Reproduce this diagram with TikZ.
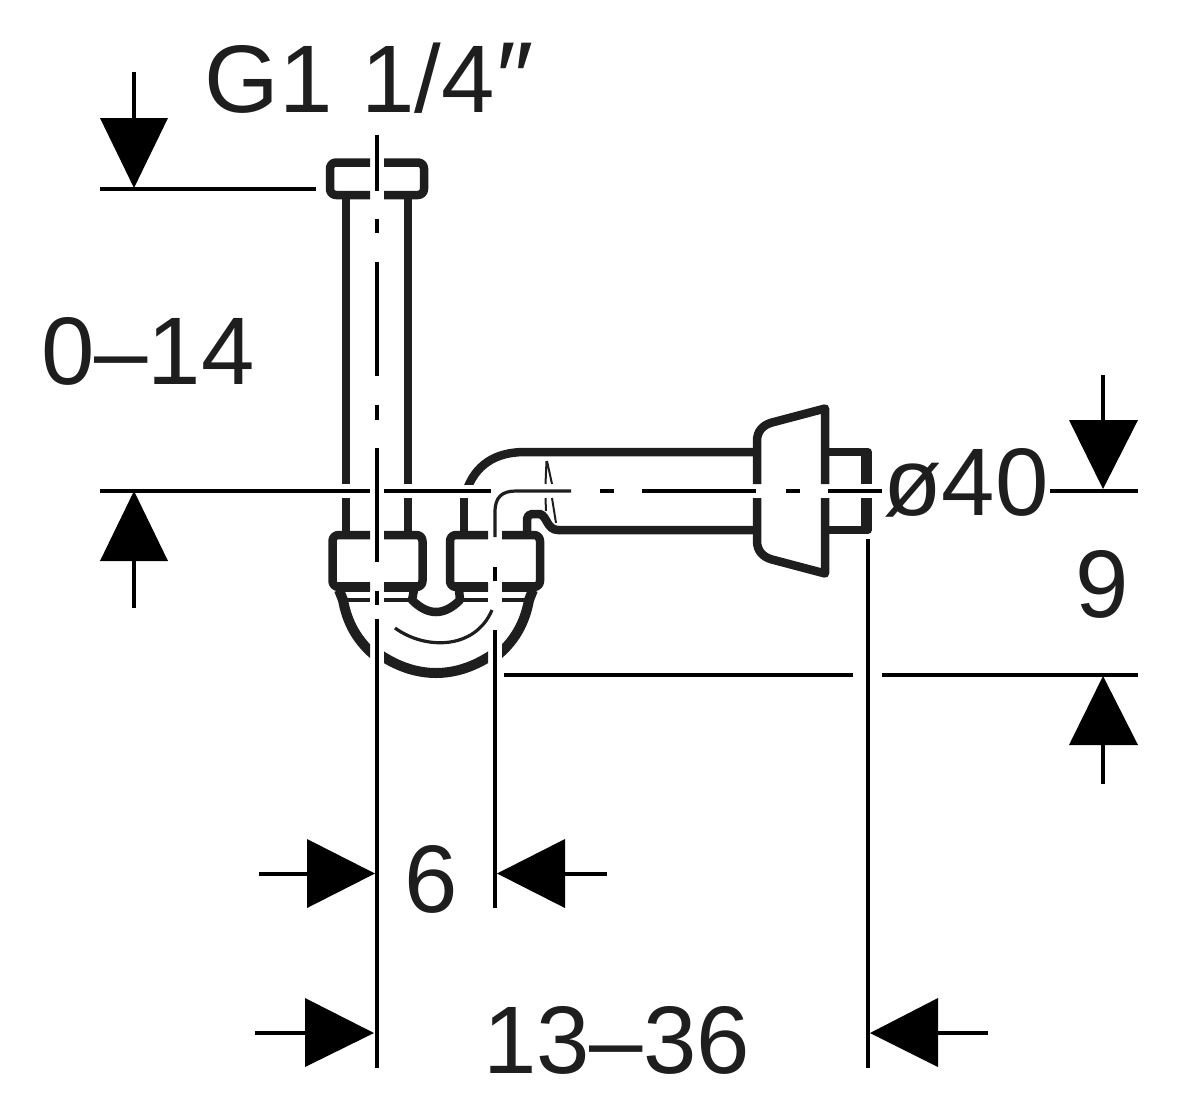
\documentclass[tikz,border=0pt]{standalone}
\usepackage{fontspec}
\usepackage{graphicx}
\setmainfont{Liberation Sans}
\definecolor{ink}{HTML}{1E1E1E}
\tikzset{
  thick line/.style={draw=ink,line width=8.5pt,line join=round},
  heavy line/.style={draw=ink,line width=10pt,line join=round},
  dim line/.style={draw=black,line width=4pt},
  thin line/.style={draw=ink,line width=3.2pt},
  tip/.style={fill=black,draw=none},
  label text/.style={text=ink,anchor=base west,inner sep=0pt,outer sep=0pt,font=\fontsize{96}{96}\selectfont},
}
\begin{document}
\begin{tikzpicture}[x=1pt,y=-1pt]
\useasboundingbox (0,0) rectangle (1183,1117);
% top nut
\draw[thick line,rounded corners=6pt] (370,162.5) -- (330,162.5) -- (330,195) -- (370,195);
\draw[thick line,rounded corners=6pt] (384,162.5) -- (424,162.5) -- (424,195) -- (384,195);
% riser
\draw[thick line] (346,195) -- (346,484) (346,498) -- (346,535);
\draw[thick line] (408,195) -- (408,484) (408,498) -- (408,535);
% lower left nut
\draw[thick line,rounded corners=6pt] (370,535) -- (332.5,535) -- (332.5,587) -- (370,587);
\draw[thick line,rounded corners=6pt] (384,535) -- (422.5,535) -- (422.5,587) -- (384,587);
\draw[draw=ink,line width=10pt] (337,587) -- (370,587) (384,587) -- (418,587);
% lower right nut
\draw[thick line,rounded corners=6pt] (488,535) -- (450,535) -- (450,587) -- (488,587);
\draw[thick line,rounded corners=6pt] (502,535) -- (540,535) -- (540,587) -- (502,587);
\draw[draw=ink,line width=10pt] (455,587) -- (488,587) (502,587) -- (535,587);
% thin lines under nuts
\draw[thin line] (346,600) -- (370,600) (384,600) -- (410,600) (463,600) -- (488,600) (502,600) -- (525,600);
% ferrules and bowl
\begin{scope}
\clip (320,585) rectangle (370,690);
\draw[heavy line] (339,590) -- (343,600) .. controls (347,622) and (357,642) .. (378,658);
\end{scope}
\begin{scope}
\clip (502,585) rectangle (550,690);
\draw[heavy line] (533,590) -- (529,600) .. controls (525,622) and (515,642) .. (494,658);
\end{scope}
\begin{scope}
\clip (384,640) rectangle (488,690);
\draw[heavy line] (376,652) .. controls (415,680) and (457,680) .. (496,652);
\end{scope}
% inner U
\draw[draw=ink,line width=8.5pt,line join=round] (414,590) -- (412,600) .. controls (428,616) and (444,616) .. (460,600) -- (459,590);
% thin inner arc
\draw[thin line] (395,628) .. controls (425,650) and (475,650) .. (492,610);
% elbow outer
\draw[thick line] (464,535) -- (464,498);
\begin{scope}
\clip (455,440) rectangle (770,484);
\draw[thick line] (466,492) .. controls (475,465) and (495,452) .. (525,452) -- (757,452);
\end{scope}
% elbow inner
\draw[thin line] (495,537) -- (495,512) .. controls (495,497) and (502,491) .. (516,491) -- (571,491);
% lower tube
\draw[thick line,rounded corners=5pt] (527,535) -- (527,514) -- (542,514);
\draw[thick line] (540,514) .. controls (547,516) and (547,530) .. (558,530) -- (757,530);
% thin wedge
\draw[draw=ink,line width=2pt] (546.5,461) -- (545.5,484) (547,461) -- (552,484) (545.5,498) -- (546,511) (552,498) -- (556,523);
% flange
\draw[thick line,line join=round] (757,484) -- (757,441) .. controls (757,431) and (763,425) .. (772,422.5) -- (825,408.5) -- (825,484);
\draw[thick line,line join=round] (757,498) -- (757,541) .. controls (757,551) and (763,557) .. (772,559.5) -- (825,573.5) -- (825,498);
% pipe stub
\draw[thick line,line width=7.5pt] (825,452) -- (868,452) -- (868,484);
\draw[thick line,line width=7.5pt] (868,498) -- (868,530) -- (825,530);
\draw[draw=ink,line width=2.8pt] (862.1,452) -- (862.1,484) (862.1,498) -- (862.1,530);
% centrelines
\draw[dim line] (377,135) -- (377,191) (377,219) -- (377,233) (377,262) -- (377,376) (377,405) -- (377,420) (377,448) -- (377,562) (377,591) -- (377,605);
\draw[dim line] (600,491) -- (614,491) (642,491) -- (756,491) (786,491) -- (800,491) (828,491) -- (882,491);
\draw[dim line] (495,567) -- (495,581);
% dimension lines
\draw[dim line] (100,188.7) -- (316,188.7);
\draw[dim line] (100,491) -- (370,491) (384,491) -- (491,491);
\draw[dim line] (1050,491) -- (1138,491);
\draw[dim line] (504,674.5) -- (853,674.5) (882,674.5) -- (1138,674.5);
\draw[dim line] (377,619) -- (377,1068);
\draw[dim line] (495,630) -- (495,908);
\draw[dim line] (867.5,539) -- (867.5,1068);
% stems
\draw[dim line] (134,72) -- (134,120) (134,560) -- (134,608);
\draw[dim line] (1103,375) -- (1103,421) (1103,744) -- (1103,784);
\draw[dim line] (259,873.5) -- (308,873.5) (564,873.5) -- (607,873.5);
\draw[dim line] (255,1033) -- (306,1033) (937,1033) -- (988,1033);
% arrowheads
\fill[tip] (100,118) -- (168,118) -- (134,188) -- cycle;
\fill[tip] (134,491) -- (168,561) -- (100,561) -- cycle;
\fill[tip] (1069,420) -- (1138,420) -- (1103,489) -- cycle;
\fill[tip] (1103,676) -- (1138,745) -- (1069,745) -- cycle;
\fill[tip] (375,873.5) -- (307,908) -- (307,839) -- cycle;
\fill[tip] (497,873.5) -- (565,839) -- (565,908) -- cycle;
\fill[tip] (374,1033) -- (305,1067) -- (305,998) -- cycle;
\fill[tip] (870,1033) -- (938,998) -- (938,1067) -- cycle;
% labels
\node[label text] (g) at (204.5,112) {G1\hspace{2pt} 1/4\hspace{2pt}\scalebox{1.1}[1.05]{″}};
\node[label text] (range) at (41,384) {0–14};
\node[label text] (dia) at (883,515) {ø40};
\node[label text] (nine) at (1075,617) {9};
\node[label text] (six) at (404.5,912) {6};
\node[label text] (span) at (483,1073) {13–36};
\end{tikzpicture}
\end{document}
